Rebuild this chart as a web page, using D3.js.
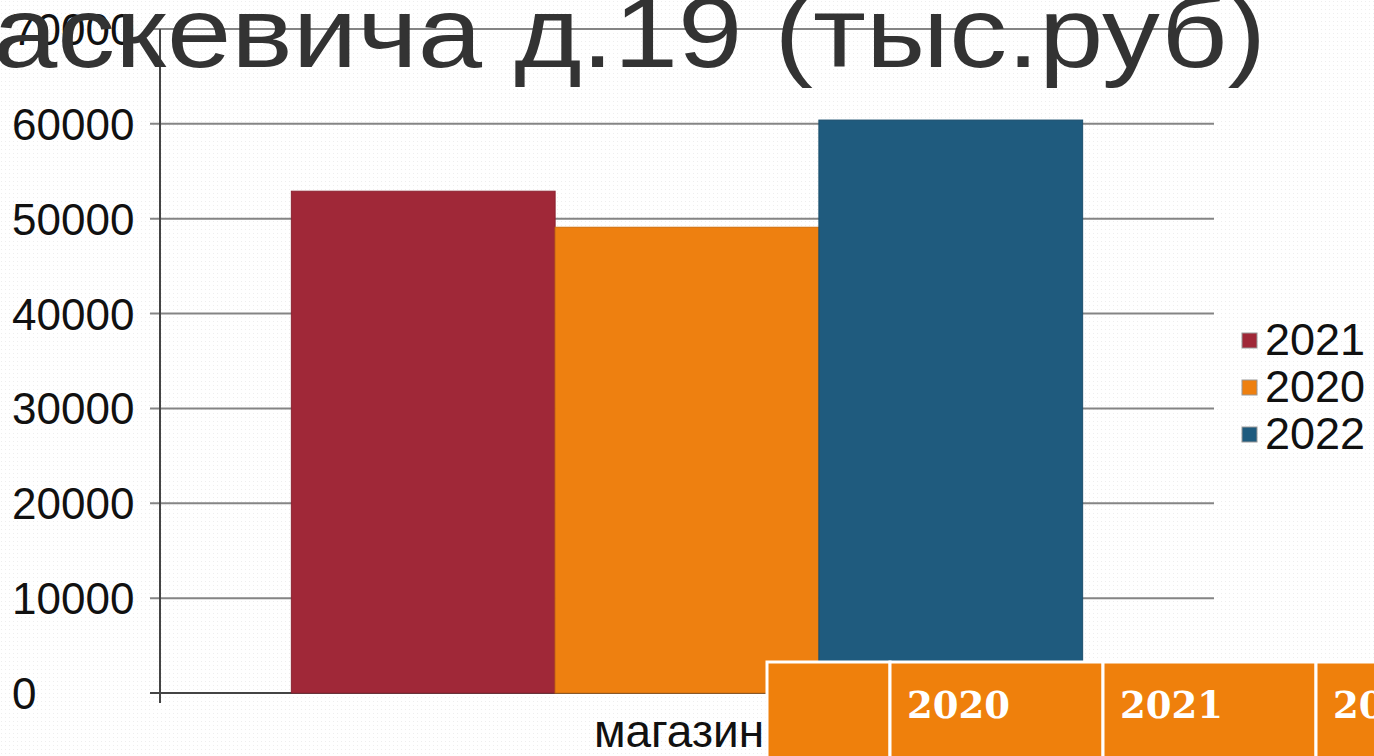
<!DOCTYPE html>
<html>
<head>
<meta charset="utf-8">
<script src="https://cdn.jsdelivr.net/npm/d3@7"></script>
<style>
  body { margin: 0; background: #fff; overflow: hidden; }
  svg { display: block; }
</style>
</head>
<body>
<div id="chart"></div>
<script>
// data
const categories = ["магазин"];
const seriesNames = ["2021", "2020", "2022"];
const seriesValues = [52900, 49100, 60400];
const seriesColors = ["#a02838", "#ee8010", "#1f5b7e"];
const yTicks = [0, 10000, 20000, 30000, 40000, 50000, 60000, 70000];
const tableHeaders = ["", "2020", "2021", "2022"];
const titleText = "аскевича д.19 (тыс.руб)";

const width = 1374, height = 756;

const svg = d3.select("#chart")
  .append("svg")
  .attr("width", width)
  .attr("height", height);

// faint dotted slide background
const defs = svg.append("defs");
const pat = defs.append("pattern")
  .attr("id", "dots")
  .attr("width", 4).attr("height", 4)
  .attr("patternUnits", "userSpaceOnUse");
pat.append("rect").attr("width", 4).attr("height", 4).attr("fill", "#ffffff");
pat.append("rect").attr("x", 1).attr("y", 1).attr("width", 1).attr("height", 1).attr("fill", "#eeeeee");
svg.append("rect").attr("width", width).attr("height", height).attr("fill", "url(#dots)");

const plot = { left: 160, right: 1214, top: 29, bottom: 693 };

const y = d3.scaleLinear()
  .domain([0, 70000])
  .range([plot.bottom, plot.top]);

const x0 = d3.scaleBand()
  .domain(categories)
  .range([plot.left, plot.right])
  .paddingInner(0)
  .paddingOuter(0.166);

const x1 = d3.scaleBand()
  .domain(seriesNames)
  .range([0, x0.bandwidth()])
  .padding(0);

// gridlines + left ticks
svg.append("g")
  .selectAll("line")
  .data(yTicks)
  .join("line")
  .attr("x1", plot.left - 10)
  .attr("x2", plot.right)
  .attr("y1", d => y(d))
  .attr("y2", d => y(d))
  .attr("stroke", d => d === 0 ? "#444" : "#858585")
  .attr("stroke-width", 2);

// tick labels, left aligned like the original
svg.append("g")
  .selectAll("text")
  .data(yTicks)
  .join("text")
  .attr("x", 12)
  .attr("y", d => y(d) + 16)
  .attr("font-family", "Liberation Sans, Arial, sans-serif")
  .attr("font-size", 44)
  .attr("fill", "#111")
  .text(d => d);

// bars
const barG = svg.append("g")
  .selectAll("g")
  .data(categories)
  .join("g")
  .attr("transform", d => `translate(${x0(d)},0)`);

barG.selectAll("rect")
  .data(seriesNames.map((s, i) => ({ name: s, value: seriesValues[i], color: seriesColors[i] })))
  .join("rect")
  .attr("x", d => x1(d.name))
  .attr("y", d => y(d.value))
  .attr("width", x1.bandwidth())
  .attr("height", d => y(0) - y(d.value))
  .attr("fill", d => d.color)
  .attr("stroke", d => d3.color(d.color).darker(0.4))
  .attr("stroke-width", 1);

// y axis line
svg.append("line")
  .attr("x1", plot.left).attr("x2", plot.left)
  .attr("y1", plot.top).attr("y2", plot.bottom + 10)
  .attr("stroke", "#444")
  .attr("stroke-width", 2);

// category label
svg.append("g")
  .selectAll("text")
  .data(categories)
  .join("text")
  .attr("x", d => x0(d) + x0.bandwidth() / 2 - 8)
  .attr("y", 747)
  .attr("text-anchor", "middle")
  .attr("font-family", "Liberation Sans, Arial, sans-serif")
  .attr("font-size", 46)
  .attr("fill", "#111")
  .text(d => d);

// legend
const legend = svg.append("g")
  .selectAll("g")
  .data(seriesNames)
  .join("g")
  .attr("transform", (d, i) => `translate(1242, ${355 + i * 47})`);

legend.append("rect")
  .attr("x", 0).attr("y", -22)
  .attr("width", 15).attr("height", 15)
  .attr("fill", (d, i) => seriesColors[i])
  .attr("stroke", "#999")
  .attr("stroke-width", 1);

legend.append("text")
  .attr("x", 23)
  .attr("y", 0)
  .attr("font-family", "Liberation Sans, Arial, sans-serif")
  .attr("font-size", 45)
  .attr("fill", "#111")
  .text(d => d);

// title, cut off on the left edge of the slide (stretched wider in the original)
svg.append("text")
  .attr("x", -7)
  .attr("y", 67)
  .attr("textLength", 1273)
  .attr("lengthAdjust", "spacingAndGlyphs")
  .attr("font-family", "Liberation Sans, Arial, sans-serif")
  .attr("font-size", 100)
  .attr("fill", "#333")
  .text(titleText);

// table overlay in the lower right corner
const colEdges = [767, 890, 1103, 1316, 1529];
const table = svg.append("g")
  .selectAll("g")
  .data(tableHeaders)
  .join("g");

table.append("rect")
  .attr("x", (d, i) => colEdges[i])
  .attr("y", 662)
  .attr("width", (d, i) => colEdges[i + 1] - colEdges[i])
  .attr("height", 120)
  .attr("fill", "#ef800c")
  .attr("stroke", "#ffffff")
  .attr("stroke-width", 3);

table.append("text")
  .attr("x", (d, i) => colEdges[i] + 17)
  .attr("y", 718)
  .attr("font-family", "DejaVu Serif, serif")
  .attr("font-weight", "bold")
  .attr("font-size", 37)
  .attr("fill", "#ffffff")
  .text(d => d);
</script>
</body>
</html>
